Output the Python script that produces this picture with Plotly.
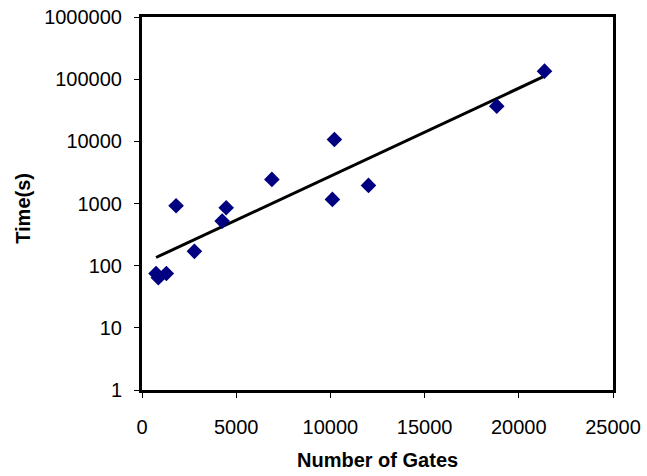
import numpy as np
import plotly.graph_objects as go

# Circuit size vs. run time
gates = [745, 867, 1293, 1809, 2782, 4255, 4468, 6894, 10106, 10213, 12021, 18830, 21364]
times = [75, 64, 75, 918, 170, 521, 853, 2440, 1164, 10720, 1954, 36800, 134500]

x_ticks = [0, 5000, 10000, 15000, 20000, 25000]
y_ticks = [1, 10, 100, 1000, 10000, 100000, 1000000]
y_tick_text = ["1", "10", "100", "1000", "10000", "100000", "1000000"]

# Exponential trend line: least squares on log10(time)
slope, intercept = np.polyfit(np.array(gates, float), np.log10(times), 1)
trend_x = np.array([min(gates), max(gates)], float)
trend_y = 10 ** (intercept + slope * trend_x)

font_family = "Liberation Sans, Arial, sans-serif"

fig = go.Figure()
fig.add_trace(go.Scatter(
    x=trend_x, y=trend_y, mode="lines",
    line=dict(color="black", width=3), hoverinfo="skip", showlegend=False,
))
fig.add_trace(go.Scatter(
    x=gates, y=times, mode="markers",
    marker=dict(symbol="diamond", size=12, color="#000080"),
    showlegend=False,
))

axis_common = dict(
    showgrid=False, zeroline=False, automargin=False,
    showline=True, linewidth=3, linecolor="black", mirror=True,
    ticks="outside", ticklen=5, tickwidth=1, tickcolor="black",
)

fig.update_layout(
    width=647, height=476,
    margin=dict(l=142, r=34, t=17, b=86),
    paper_bgcolor="white", plot_bgcolor="white",
    font=dict(family=font_family, size=20, color="black"),
    xaxis=dict(
        range=[0, 25000], tickvals=x_ticks, ticktext=[str(v) for v in x_ticks],
        ticklabelstandoff=12, **axis_common,
    ),
    yaxis=dict(
        type="log", range=[0, 6], tickvals=y_ticks, ticktext=y_tick_text,
        ticklabelstandoff=8, **axis_common,
    ),
    annotations=[
        dict(text="<b>Number of Gates</b>", xref="paper", yref="paper",
             x=0.5, y=-0.188, xanchor="center", yanchor="middle",
             showarrow=False, font=dict(size=20)),
        dict(text="<b>Time(s)</b>", xref="paper", yref="paper",
             x=-0.253, y=0.488, xanchor="center", yanchor="middle",
             textangle=-90, showarrow=False, font=dict(size=20)),
    ],
)

fig.write_html("out.html")
